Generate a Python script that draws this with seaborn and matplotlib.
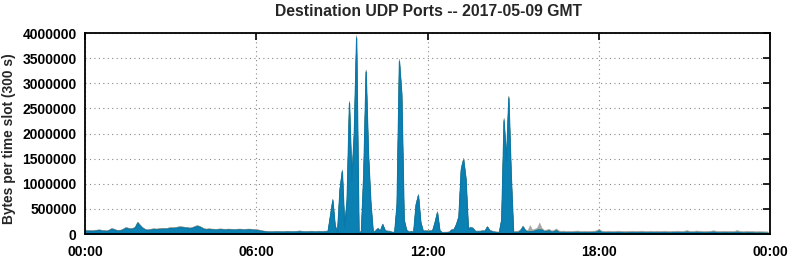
import numpy as np
import pandas as pd
import matplotlib
matplotlib.use("Agg")
import matplotlib.pyplot as plt
import matplotlib.colors as mcolors
import seaborn as sns

# ---- data (values in kilobytes per 5-minute slot, 288 slots) ----
blue_k = [
    67,62,63,60,66,72,76,67,62,58,72,100,92,72,67,72,92,120,110,101,106,130,222,170,
    122,92,77,82,92,97,92,97,102,107,102,112,117,117,122,131,136,132,127,122,112,122,142,156,
    147,122,97,92,97,92,90,87,92,94,90,87,92,90,88,86,90,92,88,86,90,92,87,82,
    77,72,62,54,50,46,44,45,47,48,46,44,46,50,48,46,47,50,54,50,47,46,48,50,
    48,46,50,47,48,50,54,360,670,160,42,880,1250,132,680,2610,1080,1980,3910,42,42,1190,3230,1580,
    620,34,62,112,62,190,72,52,52,34,34,580,3440,2780,282,82,42,52,42,580,770,232,62,62,
    57,62,72,232,430,72,30,30,32,36,82,92,192,342,1290,1480,1090,102,132,112,52,52,52,62,
    62,142,72,52,42,32,32,280,2260,1450,2710,1180,30,40,40,70,145,70,50,55,55,70,85,90,
    85,55,62,72,45,52,75,45,38,40,36,38,34,36,40,42,36,34,38,36,34,38,40,46,
    70,42,36,34,38,36,34,36,40,38,34,32,34,36,38,36,34,38,40,36,34,36,38,34,
    36,34,36,38,36,34,32,36,38,40,36,34,40,48,38,34,36,44,38,36,34,32,36,40,
    46,38,34,32,34,36,34,32,34,36,44,36,32,30,32,34,32,30,28,30,29,28,26,24,
]
orange_k = [
    8,9,8,7,9,10,8,9,8,7,8,10,9,8,9,8,10,11,10,9,10,12,14,12,
    10,9,8,9,10,9,10,11,10,9,10,11,12,12,11,12,11,10,11,10,9,10,11,12,
    11,10,9,8,9,10,9,8,9,10,9,8,9,10,9,8,9,10,9,8,9,10,9,8,
    9,10,8,8,7,8,7,8,9,8,7,8,9,8,7,8,9,8,9,8,7,8,9,8,
    9,10,9,8,9,10,9,14,18,12,9,16,20,10,14,24,16,20,28,9,10,18,24,16,
    12,9,10,9,10,11,9,10,9,8,9,14,26,22,10,9,8,9,10,14,16,10,9,10,
    9,10,9,12,14,10,8,9,8,9,10,9,12,14,20,22,18,10,9,10,9,8,9,10,
    9,10,9,8,9,10,9,16,30,22,26,18,12,10,9,10,11,10,9,10,12,11,10,12,
    11,10,11,12,10,11,12,10,11,12,10,11,12,10,11,12,10,11,12,10,11,12,10,11,
    14,11,10,11,12,10,11,12,10,11,12,10,11,12,10,11,12,10,11,12,10,11,12,10,
    11,12,10,11,12,10,11,12,10,11,12,10,11,12,10,11,12,10,11,12,10,11,12,10,
    11,12,10,11,12,10,11,12,10,11,14,12,10,11,12,10,11,12,10,11,12,10,11,12,
]
green_k = [
    4,5,4,4,5,4,5,4,4,5,4,6,5,4,5,4,5,6,5,4,5,6,8,6,
    5,4,5,4,5,5,4,5,5,4,5,5,6,5,5,6,5,5,4,5,5,4,5,6,
    5,4,5,4,5,4,5,4,5,4,5,4,5,4,5,4,5,4,5,4,5,4,5,4,
    4,5,4,4,3,4,3,4,4,5,4,4,5,4,4,5,4,4,5,4,4,5,4,4,
    5,4,5,4,5,4,5,8,10,6,4,10,12,5,8,14,10,12,16,5,4,10,14,10,
    8,4,5,4,5,6,4,5,4,4,5,8,14,12,5,4,4,5,4,8,9,5,4,5,
    5,4,5,6,8,5,4,5,4,5,5,4,6,8,10,12,10,5,4,5,4,5,4,5,
    5,4,5,4,5,4,5,8,14,10,12,8,6,5,6,7,6,5,6,7,8,6,7,8,
    7,6,8,7,6,7,8,7,6,8,7,6,7,8,7,6,8,7,6,7,8,7,6,8,
    9,7,6,7,8,7,6,8,7,6,7,8,7,6,8,7,6,7,8,7,6,8,7,6,
    7,8,6,7,8,7,6,8,7,6,7,8,7,6,8,7,6,7,8,7,6,8,7,6,
    7,8,6,7,8,7,6,8,7,6,9,8,7,6,8,7,6,7,8,7,6,8,7,6,
]
gray_k = [
    5,6,5,7,5,4,6,5,6,5,6,4,4,6,4,6,3,3,5,6,4,2,1,2,
    4,5,5,5,4,4,4,3,3,5,3,3,2,2,3,2,3,4,3,4,4,4,3,2,
    3,4,4,6,4,4,4,6,4,4,4,6,4,4,4,6,4,4,4,6,4,4,4,6,
    5,4,6,5,6,5,6,5,5,4,5,6,4,5,6,5,5,4,5,6,5,4,5,6,
    4,5,4,6,4,5,4,5,6,4,5,6,5,4,6,5,4,6,7,5,4,6,7,5,
    5,4,5,6,5,4,6,5,6,5,4,6,7,6,4,6,5,4,5,6,5,4,6,5,
    4,5,4,6,5,4,6,5,6,4,5,6,8,6,7,6,7,5,6,5,6,7,6,5,
    6,5,6,7,6,5,6,8,9,8,9,8,10,11,12,10,12,11,9,108,15,20,25,120,
    20,12,10,12,14,10,18,12,9,10,11,9,10,11,9,10,11,9,10,11,9,10,11,12,
    12,10,11,9,10,11,9,10,11,9,10,11,9,10,11,9,10,11,9,10,11,9,10,11,
    10,11,9,10,11,9,10,11,9,10,11,9,10,12,9,10,11,9,10,11,9,10,11,9,
    10,11,9,10,11,9,10,11,9,10,12,11,9,10,11,9,10,11,9,10,11,9,10,11,
]
series_names = ["gray", "green", "orange", "blue"]   # first level drawn on top
series_colors = {"blue": "#0b80b2", "orange": "#d08a22", "green": "#6f9a3c", "gray": "#a6a6a6"}
x_tick_labels = ["00:00", "06:00", "12:00", "18:00", "00:00"]
title_text = "Destination UDP Ports -- 2017-05-09 GMT"
y_label_text = "Bytes per time slot (300 s)"

slot_minutes = np.arange(len(blue_k)) * 5
frames = []
for name, vals in [("blue", blue_k), ("orange", orange_k), ("green", green_k), ("gray", gray_k)]:
    frames.append(pd.DataFrame({"minute": slot_minutes, "bytes": np.array(vals, float) * 1000, "port": name}))
df = pd.concat(frames, ignore_index=True)

sns.set_style("white")
plt.rcParams["font.family"] = ["Liberation Sans", "DejaVu Sans"]
plt.rcParams["font.weight"] = "bold"

fig = plt.figure(figsize=(7.92, 2.59), dpi=100)
ax = fig.add_axes([85 / 792, 25 / 259, 685 / 792, 201 / 259])

sns.histplot(data=df, x="minute", weights="bytes", hue="port", hue_order=series_names,
             multiple="stack", element="poly", binwidth=5, binrange=(-2.5, 1437.5),
             palette=series_colors, alpha=1.0, linewidth=0.4, legend=False, ax=ax)

# outline the dominant (blue) layer so its narrow spike tips render; thin edges elsewhere
blue_rgb = np.array(mcolors.to_rgb(series_colors["blue"]))
for coll in ax.collections:
    fc = coll.get_facecolor()
    if len(fc) and np.allclose(fc[0][:3], blue_rgb, atol=0.02):
        coll.set_edgecolor("#0a78a8")
        coll.set_linewidth(0.9)
        coll.set_zorder(3)
    else:
        coll.set_edgecolor(fc)
        coll.set_linewidth(0.3)
        coll.set_zorder(2)

ax.set_xlim(0, 1440)
ax.set_ylim(0, 4000000)
ax.set_xticks([0, 360, 720, 1080, 1440])
ax.set_xticklabels(x_tick_labels)
ax.set_yticks(np.arange(0, 4000001, 500000))
ax.set_yticklabels([f"{int(v)}" for v in np.arange(0, 4000001, 500000)])
ax.set_xlabel("")
ax.set_ylabel("")
ax.set_axisbelow(True)
ax.grid(True, linestyle=(0, (1, 3)), color="#888888", linewidth=0.8)
ax.tick_params(direction="in", top=True, right=True, length=5, width=1.2,
               labelsize=10, colors="black")
ax.tick_params(axis="x", pad=8)
ax.tick_params(axis="y", pad=6)
for lab in ax.get_xticklabels() + ax.get_yticklabels():
    lab.set_fontweight("bold")
for sp in ax.spines.values():
    sp.set_visible(True)
    sp.set_color("black")
    sp.set_linewidth(1.3)
    sp.set_zorder(5)

fig.text(428 / 792, 1 - 11 / 259, title_text, ha="center", va="center",
         fontsize=11.3, fontweight="bold")
fig.text(9 / 792, 1 - 138.5 / 259, y_label_text, ha="center", va="center",
         rotation=90, fontsize=9.9, fontweight="bold")

fig.savefig("out.png", dpi=100)
